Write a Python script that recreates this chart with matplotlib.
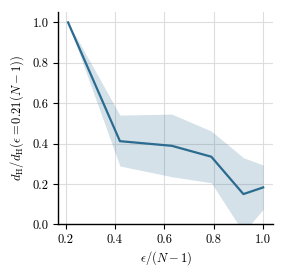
import matplotlib
matplotlib.use("Agg")
import matplotlib.pyplot as plt
import numpy as np

eps = [0.21, 0.42, 0.63, 0.79, 0.92, 1.0]
mean_ratio = [1.0, 0.412, 0.389, 0.335, 0.150, 0.183]
upper = [1.0, 0.541, 0.546, 0.462, 0.330, 0.294]
lower = [1.0, 0.289, 0.236, 0.206, -0.04, 0.074]

xticks = [0.2, 0.4, 0.6, 0.8, 1.0]
yticks = [0.0, 0.2, 0.4, 0.6, 0.8, 1.0]

plt.rcParams['font.family'] = 'serif'
plt.rcParams['font.serif'] = ['cmr10', 'DejaVu Serif']
plt.rcParams['mathtext.fontset'] = 'cm'
plt.rcParams['axes.formatter.use_mathtext'] = True
plt.rcParams['font.size'] = 9

fig = plt.figure(figsize=(2.85, 2.77), dpi=100)
ax = fig.add_axes([0.2046, 0.190, 0.753, 0.767])

color = '#2b6b90'
ax.fill_between(eps, lower, upper, color=color, alpha=0.2, linewidth=0)
ax.plot(eps, mean_ratio, color=color, linewidth=1.6)

ax.set_ylim(bottom=0)
ax.set_xticks(xticks)
ax.set_yticks(yticks)
ax.set_xticklabels([f"{t:.1f}" for t in xticks])
ax.set_yticklabels([f"{t:.1f}" for t in yticks])

ax.grid(True, color='#dddddd', linewidth=0.8)
ax.set_axisbelow(True)
for s in ['top', 'right']:
    ax.spines[s].set_visible(False)
for s in ['left', 'bottom']:
    ax.spines[s].set_linewidth(1.0)
    ax.spines[s].set_color('black')
ax.tick_params(direction='out', length=3.5, width=0.8, colors='black', labelsize=9)

ax.set_xlabel(r'$\epsilon/(N-1)$', fontsize=9, labelpad=2)
ax.set_ylabel(r'$d_{\mathrm{H}}/d_{\mathrm{H}}(\epsilon=0.21(N-1))$', fontsize=9, labelpad=5)

fig.savefig('out.png', dpi=100)
